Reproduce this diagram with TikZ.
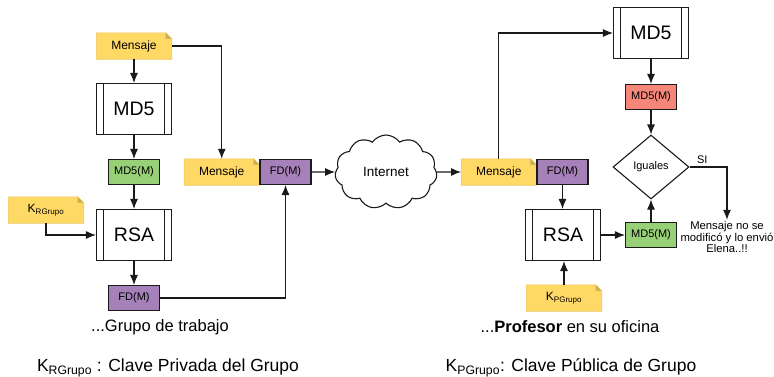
\documentclass[tikz,border=0pt]{standalone}
\usepackage{fontspec}
\setmainfont{Liberation Sans}
\usetikzlibrary{shapes.geometric, shapes.symbols, arrows.meta, backgrounds}

\definecolor{notey}{HTML}{FFD966}
\definecolor{noteline}{HTML}{EBC75E}
\definecolor{hashg}{HTML}{97D077}
\definecolor{hashr}{HTML}{F4877A}
\definecolor{firma}{HTML}{A680B8}
\definecolor{linea}{HTML}{1A1A1A}

\tikzset{
  note/.style={minimum width=75pt, minimum height=26pt, inner sep=0pt,
    font=\fontsize{12}{14}\selectfont},
  proc/.style={draw=linea, line width=1.1pt, fill=white, minimum width=75pt,
    minimum height=51pt, inner sep=0pt, font=\fontsize{19.5}{22}\selectfont,
    path picture={
      \draw[linea, line width=1.1pt]
        ([xshift=7pt]path picture bounding box.north west) -- ([xshift=7pt]path picture bounding box.south west)
        ([xshift=-7pt]path picture bounding box.north east) -- ([xshift=-7pt]path picture bounding box.south east);
    }},
  val/.style={draw=linea, line width=1.1pt, minimum width=51pt, minimum height=25pt,
    inner sep=0pt, font=\fontsize{11}{13}\selectfont},
  flow/.style={draw=linea, line width=1.1pt, -{Latex[length=10pt,width=8pt]}},
  caption/.style={font=\fontsize{16.5}{19}\selectfont}
}

\begin{document}
\begin{tikzpicture}[x=1pt, y=-1pt]
  \useasboundingbox (0,0) rectangle (774,376);

  % lado del grupo
  \node[note] (msgA) at (134,46) {Mensaje};
  \node[proc] (hashA) at (134,109) {MD5};
  \node[val, fill=hashg] (digA) at (134,172) {MD5(M)};
  \node[note] (keyR) at (46,210) {K\textsubscript{RGrupo}};
  \node[proc] (rsaA) at (134,235) {RSA};
  \node[val, fill=firma] (sigA) at (134,298) {FD(M)};
  \node[val, fill=firma] (sigB) at (285.5,172) {FD(M)};
  \node[note, anchor=east] (msgB) at (sigB.west) {Mensaje};

  % la red
  \node[cloud, draw=linea, line width=1.1pt, cloud puffs=11, cloud puff arc=110,
    aspect=1.4, minimum width=102pt, minimum height=74pt, inner sep=0pt,
    font=\fontsize{13.5}{16}\selectfont] (net) at (386,172) {Internet};

  % lado del profesor
  \node[val, fill=firma] (sigC) at (562.5,172) {FD(M)};
  \node[note, anchor=east] (msgC) at (sigC.west) {Mensaje};
  \node[proc] (hashB) at (651,33) {MD5};
  \node[val, fill=hashr] (digB) at (651,97) {MD5(M)};
  \node[diamond, draw=linea, line width=1.1pt, aspect=1.2, minimum width=76pt,
    minimum height=64pt, inner sep=0pt, font=\fontsize{11}{13}\selectfont] (cmp) at (651,167) {Iguales};
  \node[proc] (rsaB) at (563,235) {RSA};
  \node[val, fill=hashg] (digC) at (651,235) {MD5(M)};
  \node[note] (keyP) at (564,298) {K\textsubscript{PGrupo}};
  \node[align=center, inner sep=1pt, font=\fontsize{11.3}{11.8}\selectfont] (ok) at (727,237)
    {Mensaje no se\\modificó y lo envió\\Elena..!!};

  % hojas amarillas con la esquina doblada
  \begin{scope}[on background layer]
    \foreach \n in {msgA,msgB,msgC,keyR,keyP} {
      \filldraw[fill=notey, draw=noteline, line width=0.6pt]
        (\n.south west) -- (\n.north west) -- ([xshift=-6pt]\n.north east)
        -- ([yshift=-6pt]\n.north east) -- (\n.south east) -- cycle;
      \filldraw[fill=notey!80!black, draw=noteline, line width=0.4pt]
        ([xshift=-6pt]\n.north east) -- ([xshift=-6pt,yshift=-6pt]\n.north east)
        -- ([yshift=-6pt]\n.north east) -- cycle;
    }
  \end{scope}

  % flechas
  \draw[flow] (msgA) -- (hashA);
  \draw[flow] (hashA) -- (digA);
  \draw[flow] (digA) -- (rsaA);
  \draw[flow] (keyR.south) |- (rsaA.west);
  \draw[flow] (rsaA) -- (sigA);
  \draw[flow] (msgA.east) -| (msgB.north);
  \draw[flow] (sigA.east) -| (sigB.south);
  \draw[flow] (sigB.east) -- (net.west);
  \draw[flow] (net.east) -- (msgC.west);
  \draw[flow] (msgC.north) |- (hashB.west);
  \draw[flow] (hashB) -- (digB);
  \draw[flow] (digB) -- (cmp);
  \draw[flow] (sigC.south) -- (sigC.south |- rsaB.north);
  \draw[flow] (rsaB.east) -- (digC.west);
  \draw[flow] (digC) -- (cmp);
  \draw[flow] (keyP.north) -- (keyP.north |- rsaB.south);
  \draw[flow] (cmp.east) -| node[pos=0.17, above, font=\fontsize{11}{12}\selectfont] (si) {SI} (ok.north);

  % textos de abajo
  \node[caption] (capA) at (160,327) {...Grupo de trabajo};
  \node[caption] (capB) at (570,327) {...\textbf{Profesor} en su oficina};
  \node[caption, font=\fontsize{17.5}{20}\selectfont] (legA) at (168,368) {K\textsubscript{RGrupo} : Clave Privada del Grupo};
  \node[caption, font=\fontsize{17.5}{20}\selectfont] (legB) at (571,368) {K\textsubscript{PGrupo}: Clave Pública de Grupo};
\end{tikzpicture}
\end{document}
